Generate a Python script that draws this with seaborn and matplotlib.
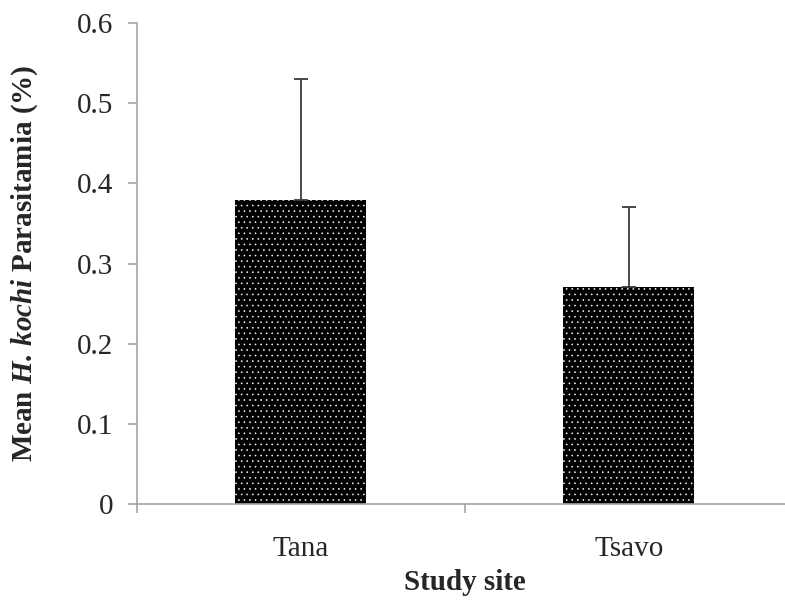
import matplotlib
matplotlib.use("Agg")
import matplotlib.pyplot as plt
import seaborn as sns
import pandas as pd

# Data
sites = ["Tana", "Tsavo"]
means = [0.379, 0.271]
upper = [0.530, 0.370]
yticks = [0, 0.1, 0.2, 0.3, 0.4, 0.5, 0.6]
ytick_labels = ["0", "0.1", "0.2", "0.3", "0.4", "0.5", "0.6"]

sns.set_style("white")
plt.rcParams["font.family"] = ["Liberation Serif", "DejaVu Serif"]
plt.rcParams["mathtext.fontset"] = "custom"
plt.rcParams["mathtext.it"] = "Liberation Serif:italic:bold"
plt.rcParams["mathtext.bfit"] = "Liberation Serif:italic:bold"
plt.rcParams["mathtext.rm"] = "Liberation Serif:bold"
plt.rcParams["hatch.color"] = "white"
plt.rcParams["hatch.linewidth"] = 0.4

df = pd.DataFrame({"site": sites, "mean": means})

fig = plt.figure(figsize=(7.85, 6.0), dpi=100)
ax = fig.add_axes([136.5 / 785, 96 / 600, 656.4 / 785, 481 / 600])

sns.barplot(data=df, x="site", y="mean", ax=ax, color="black", width=0.4,
            errorbar=None, saturation=1, edgecolor="white", linewidth=0,
            hatch="...")

centers = [p.get_x() + p.get_width() / 2 for p in ax.patches]
err_hi = [u - m for u, m in zip(upper, means)]
ax.errorbar(centers, means, yerr=[[0] * len(means), err_hi], fmt="none",
            ecolor="#3a3a3a", elinewidth=1.3, capsize=5, capthick=1.3, zorder=3)

ax.set_xlim(-0.5, 1.5)
ax.set_ylim(0, 0.6)
ax.set_yticks(yticks)
ax.set_yticklabels(ytick_labels)

# category boundary ticks (major, unlabeled) and labels at centers (minor, no tick)
ax.set_xticks([-0.5, 0.5, 1.5])
ax.set_xticklabels(["", "", ""])
ax.set_xticks([0, 1], minor=True)
ax.set_xticklabels(sites, minor=True)

spine_col = "#a6a6a6"
for s in ["top", "right"]:
    ax.spines[s].set_visible(False)
for s in ["left", "bottom"]:
    ax.spines[s].set_color(spine_col)
    ax.spines[s].set_linewidth(1.2)

ax.tick_params(axis="y", which="major", direction="out", length=6.5, width=1.2,
               color=spine_col, labelsize=21, pad=10, left=True)
ax.tick_params(axis="x", which="major", direction="out", length=6.5, width=1.2,
               color=spine_col, bottom=True)
ax.tick_params(axis="x", which="minor", length=0, labelsize=21, pad=23)

ax.set_xlabel("Study site", fontsize=21, fontweight="bold", labelpad=5)
ax.set_ylabel(r"Mean $\mathbfit{H.\,kochi}$ Parasitamia (%)", fontsize=21,
              fontweight="bold", labelpad=27)

fig.savefig("out.png", dpi=100)
